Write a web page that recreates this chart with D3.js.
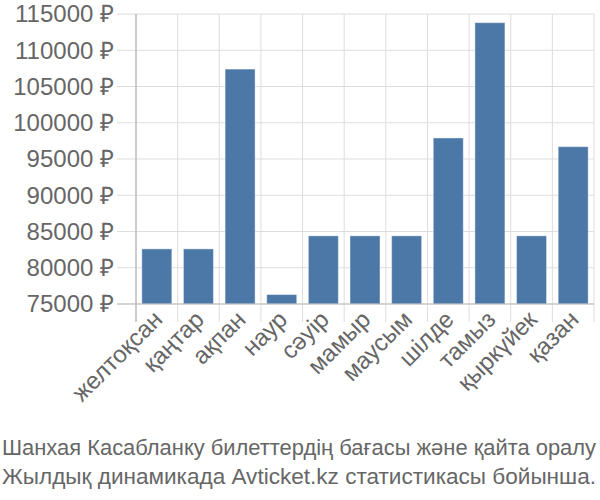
<!DOCTYPE html>
<html><head><meta charset="utf-8">
<script src="https://cdn.jsdelivr.net/npm/d3@7"></script>
<style>body{margin:0;background:#fff}svg{display:block}</style>
</head><body>
<script>
const categories = ["желтоқсан","қаңтар","ақпан","наур","сәуір","мамыр","маусым","шілде","тамыз","қыркүйек","қазан"];
const values = [82600, 82600, 107400, 76300, 84400, 84400, 84400, 97900, 113800, 84400, 96700];
const yTicks = [75000, 80000, 85000, 90000, 95000, 100000, 105000, 110000, 115000];
const titleLines = ["Шанхая Касабланку билеттердің бағасы және қайта оралу", "Жылдық динамикада Avticket.kz статистикасы бойынша."];

const W = 600, H = 500;
const m = {left: 136, right: 6, top: 14, bottom: 196};
const svg = d3.select("body").append("svg").attr("width", W).attr("height", H);
const font = "'Liberation Sans', Arial, sans-serif";
const x = d3.scaleBand().domain(categories).range([m.left, W - m.right]).paddingInner(0.28).paddingOuter(0.14);
const y = d3.scaleLinear().domain([75000, 115000]).range([H - m.bottom, m.top]);
const y0 = H - m.bottom;
const step = x.step();
const bounds = d3.range(categories.length + 1).map(i => m.left + i * step);

// grid
svg.append("g").selectAll("line").data(yTicks).join("line")
  .attr("x1", m.left - 19).attr("x2", W - m.right).attr("y1", d => y(d)).attr("y2", d => y(d))
  .attr("stroke", "#ddd").attr("stroke-width", 1);
svg.append("g").selectAll("line").data(bounds).join("line")
  .attr("x1", d => d).attr("x2", d => d).attr("y1", m.top).attr("y2", y0 + 18)
  .attr("stroke", "#ddd").attr("stroke-width", 1);

// bars
svg.append("g").selectAll("rect").data(values).join("rect")
  .attr("x", (d, i) => x(categories[i])).attr("width", x.bandwidth())
  .attr("y", d => y(d)).attr("height", d => y0 - y(d))
  .attr("fill", "#4c78a8").attr("stroke", "#fff").attr("stroke-opacity", 0.4).attr("stroke-width", 1);

// axes lines
svg.append("line").attr("x1", m.left).attr("x2", m.left).attr("y1", m.top).attr("y2", y0 + 18).attr("stroke", "#aaa");
svg.append("line").attr("x1", m.left - 19).attr("x2", W - m.right).attr("y1", y0).attr("y2", y0).attr("stroke", "#bbb");

// y labels
svg.append("g").selectAll("text").data(yTicks).join("text")
  .attr("x", m.left - 22).attr("y", d => y(d)).attr("dy", "0.35em")
  .attr("text-anchor", "end").attr("font-family", font).attr("font-size", 24).attr("fill", "#666")
  .text(d => d + " ₽");

// x labels
svg.append("g").selectAll("text").data(categories).join("text")
  .attr("transform", d => `translate(${x(d) + x.bandwidth() / 2 + 7},${y0 + 17}) rotate(-45)`)
  .attr("text-anchor", "end").attr("font-family", font).attr("font-size", 24).attr("fill", "#666")
  .text(d => d);

// title
svg.append("g").selectAll("text").data(titleLines).join("text")
  .attr("x", 2).attr("y", (d, i) => 455 + i * 29)
  .attr("font-family", font).attr("font-size", 22).attr("fill", "#666")
  .attr("textLength", 594).attr("lengthAdjust", "spacingAndGlyphs")
  .text(d => d);
</script>
</body></html>
